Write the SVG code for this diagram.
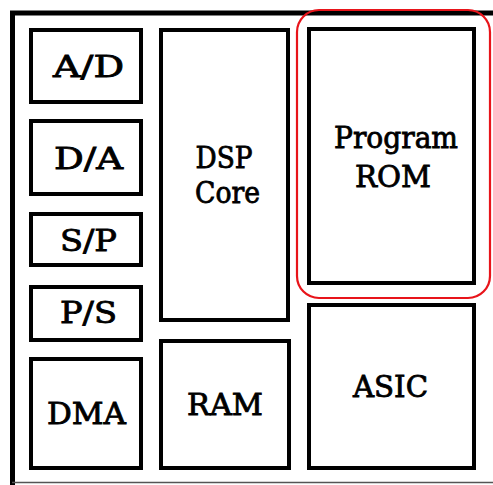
<svg xmlns="http://www.w3.org/2000/svg" width="493" height="485" viewBox="0 0 493 485">
<style>
.box{fill:#fff;stroke:#000;stroke-width:4}
.lbl{font-family:'DejaVu Serif','Liberation Serif',serif;font-size:30px;fill:#000;stroke:#000;stroke-width:0.85;text-anchor:middle}
</style>
<rect x="0" y="0" width="493" height="485" fill="#fff"/>
<g id="frame">
<line x1="12.5" y1="11" x2="12.5" y2="485" stroke="#000" stroke-width="5"/>
<line x1="10" y1="13" x2="493" y2="13" stroke="#000" stroke-width="5"/>
<line x1="12" y1="482.5" x2="493" y2="482.5" stroke="#555" stroke-width="1.5"/>
</g>
<g id="ad"><rect class="box" x="31" y="30" width="110" height="72"/><text class="lbl" x="88.5" y="77" textLength="71" lengthAdjust="spacingAndGlyphs">A/D</text></g>
<g id="da"><rect class="box" x="31" y="121" width="110" height="73"/><text class="lbl" x="88.5" y="169" textLength="69" lengthAdjust="spacingAndGlyphs">D/A</text></g>
<g id="sp"><rect class="box" x="31" y="214" width="110" height="51"/><text class="lbl" x="88.5" y="251" textLength="57" lengthAdjust="spacingAndGlyphs">S/P</text></g>
<g id="ps"><rect class="box" x="31" y="287" width="110" height="53"/><text class="lbl" x="88.5" y="323" textLength="57" lengthAdjust="spacingAndGlyphs">P/S</text></g>
<g id="dma"><rect class="box" x="31" y="359" width="110" height="109"/><text class="lbl" x="86.5" y="424" textLength="79" lengthAdjust="spacingAndGlyphs">DMA</text></g>
<g id="dsp"><rect class="box" x="161" y="30" width="127" height="290"/><text class="lbl" x="224" y="168" textLength="57" lengthAdjust="spacingAndGlyphs">DSP</text><text class="lbl" x="227.5" y="203" textLength="65" lengthAdjust="spacingAndGlyphs">Core</text></g>
<g id="ram"><rect class="box" x="161" y="341" width="128" height="127"/><text class="lbl" x="225" y="415" textLength="76" lengthAdjust="spacingAndGlyphs">RAM</text></g>
<g id="rom"><rect class="box" x="309" y="29" width="165" height="254"/><text class="lbl" x="396" y="148" textLength="124" lengthAdjust="spacingAndGlyphs">Program</text><text class="lbl" x="393" y="187" textLength="76" lengthAdjust="spacingAndGlyphs">ROM</text></g>
<g id="asic"><rect class="box" x="309" y="305" width="165" height="163"/><text class="lbl" x="390.5" y="397" textLength="75" lengthAdjust="spacingAndGlyphs">ASIC</text></g>
<g id="highlight"><rect x="297" y="10" width="193" height="288" rx="22" fill="none" stroke="#e8141a" stroke-width="2.2"/></g>
<g id="connectors"/>
</svg>
